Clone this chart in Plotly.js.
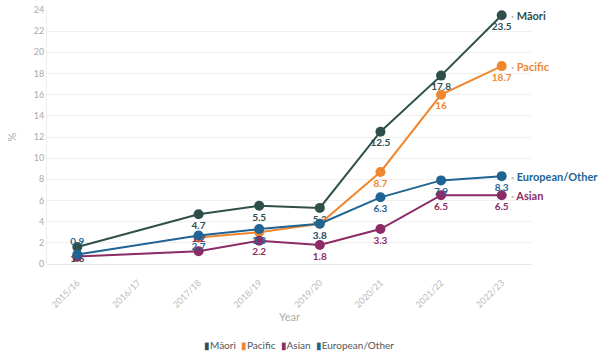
<!DOCTYPE html>
<html>
<head>
<meta charset="utf-8">
<script src="https://cdn.plot.ly/plotly-3.0.1.min.js"></script>
<style>html,body{margin:0;padding:0;background:#fff;}#chart{width:602px;height:353px;}</style>
</head>
<body>
<div id="chart"></div>
<script>
const years = ["2015/16", "2016/17", "2017/18", "2018/19", "2019/20", "2020/21", "2021/22", "2022/23"];
const maori = [1.6, null, 4.7, 5.5, 5.3, 12.5, 17.8, 23.5];
const pacific = [null, null, 2.5, 3.0, 3.8, 8.7, 16, 18.7];
const asian = [0.7, null, 1.2, 2.2, 1.8, 3.3, 6.5, 6.5];
const european = [0.9, null, 2.7, 3.3, 3.8, 6.3, 7.9, 8.3];
const seriesNames = ["Māori", "Pacific", "Asian", "European/Other"];
const colors = ["#2f4f4a", "#f0862e", "#8b2c66", "#1f6492"];
// labels hidden where the reference hides overlapping ones
const hiddenLabels = [[], [2, 3], [0], []];
// labels drawn above the point instead of below
const aboveLabels = [[], [], [2], [0]];

const data = [maori, pacific, asian, european];
const font = "Lato, 'Open Sans', sans-serif";

const traces = data.map((vals, i) => ({
  x: years,
  y: vals,
  name: seriesNames[i],
  type: "scatter",
  mode: "lines+markers+text",
  connectgaps: true,
  showlegend: false,
  line: {color: colors[i], width: 2},
  marker: {color: colors[i], size: 10},
  text: vals.map((v, j) => (v === null || hiddenLabels[i].includes(j)) ? "" : String(v)),
  textposition: vals.map((v, j) => aboveLabels[i].includes(j) ? "top center" : "bottom center"),
  textfont: {color: colors[i], size: 10, family: font, weight: "bold"},
  cliponaxis: false
}));

const annotations = data.map((vals, i) => ({
  x: years[years.length - 1],
  y: vals[vals.length - 1],
  xref: "x", yref: "y",
  text: '<span style="color:#bbb">·</span> ' + seriesNames[i],
  showarrow: false,
  xanchor: "left",
  xshift: 7,
  font: {color: colors[i], size: 11, family: font, weight: "bold"}
}));

// compact legend row below the chart
const legendText = seriesNames.map((n, i) =>
  '<span style="color:' + colors[i] + '">▮</span>' + n).join('&nbsp;&nbsp;');
annotations.push({
  x: 0.52, y: -(345 - 264) / (264 - 10), xref: "paper", yref: "paper", yanchor: "middle",
  text: legendText, showarrow: false, xanchor: "center",
  font: {size: 10, color: "#555", family: font}
});

const layout = {
  width: 602, height: 353,
  margin: {l: 47, r: 70, t: 10, b: 89},
  paper_bgcolor: "#fff", plot_bgcolor: "#fff",
  font: {family: font, color: "#999"},
  showlegend: false,
  xaxis: {
    type: "category", categoryorder: "array", categoryarray: years,
    range: [-0.5, 7.5], automargin: false,
    tickangle: -45, tickfont: {size: 9, color: "#bbb", family: font},
    showgrid: false, zeroline: false, showline: false,
    ticks: "outside", ticklen: 9, tickcolor: "rgba(0,0,0,0)",
    title: {text: "Year", font: {size: 11, color: "#aaa", family: font}, standoff: 2}
  },
  yaxis: {
    range: [0, 24], dtick: 2, automargin: false,
    tickfont: {size: 9, color: "#aaa", family: font},
    gridcolor: "#f0f0f0", zeroline: true, zerolinecolor: "#e6e6e6",
    showline: true, linecolor: "#eeeeee",
    title: {text: "%", font: {size: 11, color: "#aaa", family: font}, standoff: 14}
  },
  annotations: annotations
};

Plotly.newPlot("chart", traces, layout, {displayModeBar: false, staticPlot: true});
</script>
</body>
</html>
